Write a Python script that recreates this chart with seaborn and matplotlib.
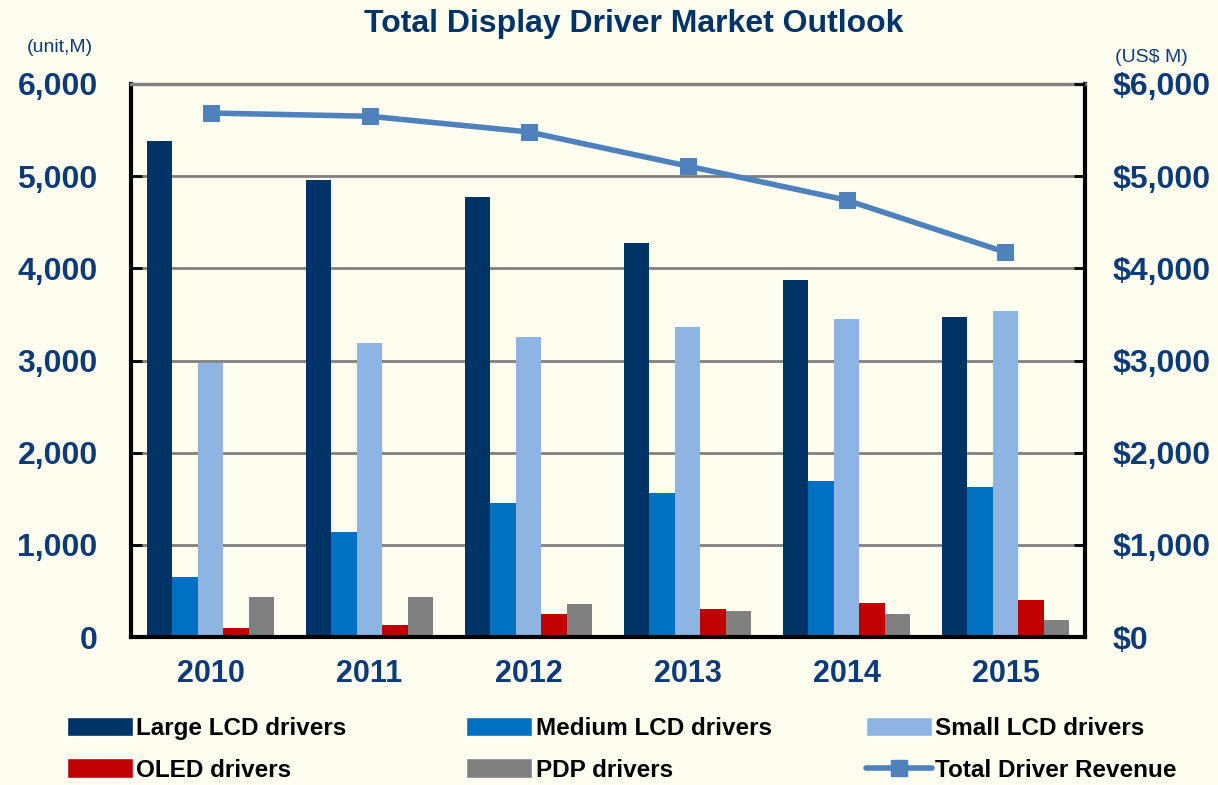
import numpy as np
import pandas as pd
import matplotlib
matplotlib.use("Agg")
import matplotlib.pyplot as plt
import seaborn as sns
from matplotlib.patches import Patch
from matplotlib.lines import Line2D

years = ["2010", "2011", "2012", "2013", "2014", "2015"]
large_lcd = [5380, 4960, 4775, 4275, 3875, 3470]
medium_lcd = [650, 1140, 1455, 1560, 1695, 1630]
small_lcd = [2975, 3190, 3255, 3365, 3450, 3535]
oled = [100, 130, 250, 305, 370, 400]
pdp = [435, 435, 360, 285, 250, 185]
revenue = [5685, 5650, 5480, 5110, 4740, 4175]

series_names = ["Large LCD drivers", "Medium LCD drivers", "Small LCD drivers",
                "OLED drivers", "PDP drivers"]
series_vals = [large_lcd, medium_lcd, small_lcd, oled, pdp]
colors = ["#003366", "#0070C0", "#8EB4E3", "#C00000", "#808080"]
line_color = "#4F81BD"
navy = "#0D3B7A"
bg = "#FEFEF0"

rows = []
for name, vals in zip(series_names, series_vals):
    for y, v in zip(years, vals):
        rows.append({"year": y, "series": name, "value": v})
df = pd.DataFrame(rows)

sns.set_style("white")
plt.rcParams["font.family"] = ["Liberation Sans", "DejaVu Sans"]

fig = plt.figure(figsize=(12.18, 7.85), dpi=100, facecolor=bg)
ax = fig.add_axes([0.1076, 0.1885, 0.7832, 0.7045])
ax.set_facecolor(bg)

sns.barplot(data=df, x="year", y="value", hue="series", palette=colors,
            hue_order=series_names, order=years, width=0.8, saturation=1,
            ax=ax, legend=False, edgecolor="none")

ax.set_ylim(0, 6000)
ax.set_xlim(-0.5, 5.5)
ax.set_yticks(np.arange(0, 6001, 1000))
ax.set_yticklabels([f"{v:,}" for v in range(0, 6001, 1000)])
ax.grid(axis="y", color="#808080", linewidth=2)
ax.set_axisbelow(True)
ax.set_xlabel("")
ax.set_ylabel("")
ax.tick_params(axis="y", direction="in", length=8, width=2, color="black",
               pad=24, labelsize=23, labelcolor=navy)
ax.tick_params(axis="x", which="major", length=0, pad=16, labelsize=22, labelcolor=navy)
ax.set_xticks(np.arange(0.5, 5.5, 1), minor=True)
ax.tick_params(axis="x", which="minor", direction="in", length=8, width=2, color="black")
for lab in ax.get_yticklabels() + ax.get_xticklabels():
    lab.set_fontweight("bold")

for side in ["left", "bottom", "right"]:
    ax.spines[side].set_visible(True)
    ax.spines[side].set_color("black")
    ax.spines[side].set_linewidth(3)
ax.spines["top"].set_visible(True)
ax.spines["top"].set_color("#808080")
ax.spines["top"].set_linewidth(2.5)

ax2 = ax.twinx()
rev_df = pd.DataFrame({"x": np.arange(len(years)), "revenue": revenue})
sns.lineplot(data=rev_df, x="x", y="revenue", ax=ax2, color=line_color,
             linewidth=4, marker="s", markersize=12, markeredgecolor=line_color)
ax2.set_ylim(0, 6000)
ax2.set_xlim(-0.5, 5.5)
ax2.set_yticks(np.arange(0, 6001, 1000))
ax2.set_yticklabels([f"${v:,}" for v in range(0, 6001, 1000)])
ax2.set_ylabel("")
ax2.set_xlabel("")
ax2.tick_params(axis="y", direction="in", length=8, width=2, color="black",
                pad=20, labelsize=23, labelcolor=navy)
for lab in ax2.get_yticklabels():
    lab.set_fontweight("bold")
for sp in ax2.spines.values():
    sp.set_visible(False)

fig.text(0.52, 0.97, "Total Display Driver Market Outlook", ha="center", va="center",
         fontsize=23, fontweight="bold", color="#003366")
fig.text(0.049, 0.939, "(unit,M)", ha="center", va="center", fontsize=14, color=navy)
fig.text(0.945, 0.927, "(US$ M)", ha="center", va="center", fontsize=14, color=navy)

col_items = [
    [Patch(facecolor=colors[0], label=series_names[0]),
     Patch(facecolor=colors[3], label=series_names[3])],
    [Patch(facecolor=colors[1], label=series_names[1]),
     Patch(facecolor=colors[4], label=series_names[4])],
    [Patch(facecolor=colors[2], label=series_names[2]),
     Line2D([0], [0], color=line_color, linewidth=4, marker="s", markersize=12,
            label="Total Driver Revenue")],
]
col_x = [0.047, 0.375, 0.703]
for items, x0 in zip(col_items, col_x):
    leg = fig.legend(handles=items, loc="lower left", bbox_to_anchor=(x0, -0.008),
                     frameon=False, prop={"weight": "bold", "size": 17.5},
                     handlelength=2.7, handleheight=0.85, handletextpad=0.15,
                     labelspacing=0.75, borderaxespad=0.2, borderpad=0.2)
    for t in leg.get_texts():
        t.set_color("black")
fig.savefig("out.png", dpi=100, facecolor=bg)
